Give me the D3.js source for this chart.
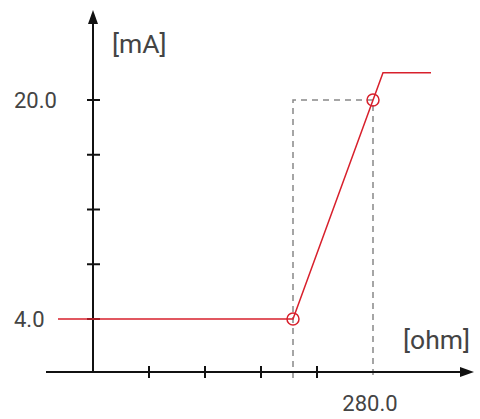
<!DOCTYPE html>
<html>
<head>
<meta charset="utf-8">
<script src="https://cdn.jsdelivr.net/npm/d3@7"></script>
<style>
  body { margin: 0; background: #fff; }
  text { font-family: Roboto, "Noto Sans", sans-serif; fill: #444; font-size: 22px; }
  text.unit { font-size: 26.5px; }
</style>
</head>
<body>
<div class="chart"></div>
<script>
var width = 480, height = 419;

// characteristic curve: resistance [ohm] -> current [mA]
var curveOhm = [-35, 200, 290, 338];
var curveMa = [4, 4, 22, 22];
// marked points
var markOhm = [200, 280];
var markMa = [4, 20];
// ticks
var xTicks = [56, 112, 168, 224];
var yTicks = [4, 8, 12, 16, 20];
var yLabels = ['4.0', '20.0'];
var xLabels = ['280.0'];

var red = '#d8202c';

var x = d3.scaleLinear().domain([0, 280]).range([93, 373]);
var y = d3.scaleLinear().domain([4, 20]).range([319, 100]);
var axisY = 372;

var svg = d3.select('.chart')
  .append('svg')
  .attr('width', width)
  .attr('height', height);

// dashed guides
var g = svg.append('g')
  .attr('stroke', '#888')
  .attr('stroke-width', 1.5)
  .attr('stroke-dasharray', '6,5')
  .attr('fill', 'none');
g.append('path')
  .attr('d', 'M' + x(markOhm[0]) + ',' + (axisY + 6) +
    'V' + y(markMa[1]) + 'H' + x(markOhm[1]) + 'V' + (axisY + 6));

// axes
svg.append('line')
  .attr('x1', 46).attr('x2', 462)
  .attr('y1', axisY).attr('y2', axisY)
  .attr('stroke', '#111').attr('stroke-width', 2);
svg.append('path')
  .attr('d', 'M474,' + axisY + 'L460,' + (axisY - 5) + 'L460,' + (axisY + 5) + 'Z')
  .attr('fill', '#111');
svg.append('line')
  .attr('x1', x(0)).attr('x2', x(0))
  .attr('y1', axisY).attr('y2', 20)
  .attr('stroke', '#111').attr('stroke-width', 2);
svg.append('path')
  .attr('d', 'M' + x(0) + ',10L' + (x(0) - 5) + ',24L' + (x(0) + 5) + ',24Z')
  .attr('fill', '#111');

svg.selectAll('.xtick')
  .data(xTicks)
  .enter().append('line')
  .attr('x1', function(d) { return x(d); })
  .attr('x2', function(d) { return x(d); })
  .attr('y1', axisY - 6).attr('y2', axisY + 6)
  .attr('stroke', '#111').attr('stroke-width', 2);

svg.selectAll('.ytick')
  .data(yTicks)
  .enter().append('line')
  .attr('x1', x(0) - 6).attr('x2', x(0) + 7)
  .attr('y1', function(d) { return y(d); })
  .attr('y2', function(d) { return y(d); })
  .attr('stroke', '#111').attr('stroke-width', 2);

// curve
var line = d3.line()
  .x(function(d, i) { return x(curveOhm[i]); })
  .y(function(d) { return y(d); });
svg.append('path')
  .datum(curveMa)
  .attr('d', line)
  .attr('fill', 'none')
  .attr('stroke', red)
  .attr('stroke-width', 1.5);

svg.selectAll('circle')
  .data(markMa)
  .enter().append('circle')
  .attr('cx', function(d, i) { return x(markOhm[i]); })
  .attr('cy', function(d) { return y(d); })
  .attr('r', 6)
  .attr('fill', 'none')
  .attr('stroke', red)
  .attr('stroke-width', 1.5);

// labels
svg.selectAll('.ylabel')
  .data(markMa)
  .enter().append('text')
  .attr('x', 14)
  .attr('y', function(d) { return y(d); })
  .attr('dy', '0.35em')
  .text(function(d, i) { return yLabels[i]; });

svg.append('text')
  .attr('x', x(markOhm[1]) - 3)
  .attr('y', 411)
  .attr('text-anchor', 'middle')
  .text(xLabels[0]);

svg.append('text').attr('class', 'unit').attr('x', 112).attr('y', 53).text('[mA]');
svg.append('text').attr('class', 'unit').attr('x', 403).attr('y', 349).text('[ohm]');
</script>
</body>
</html>
